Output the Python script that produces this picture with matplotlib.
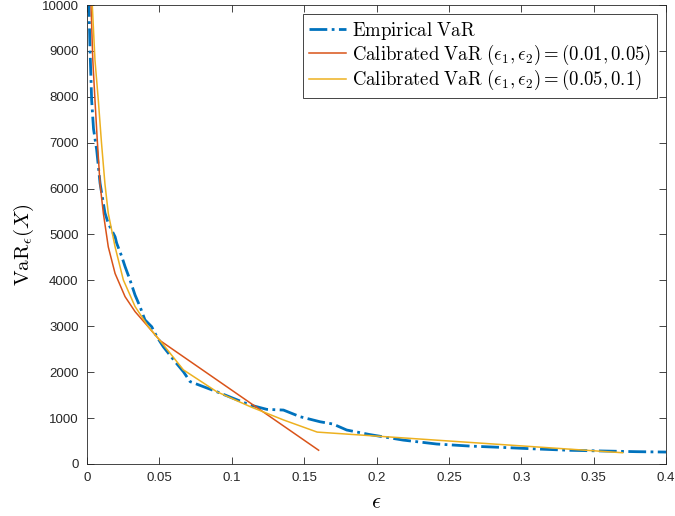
import numpy as np
import matplotlib
matplotlib.use("Agg")
import matplotlib.pyplot as plt

# Empirical VaR
emp_eps = [0.001, 0.0014, 0.0021, 0.0032, 0.0045, 0.0067, 0.009, 0.0124, 0.0147,
           0.0194, 0.0205, 0.024, 0.0263, 0.0297, 0.0332, 0.0366, 0.04, 0.0447,
           0.0482, 0.0527, 0.0608, 0.0666, 0.0712, 0.0804, 0.0896, 0.1011, 0.1127,
           0.1242, 0.1357, 0.1472, 0.161, 0.1700, 0.1794, 0.1955, 0.2185, 0.2416,
           0.2646, 0.2876, 0.3107, 0.3337, 0.3567, 0.3798, 0.4]
emp_var = [10600, 9890, 9020, 7930, 7300, 6840, 6120, 5470, 5240,
           4950, 4810, 4520, 4300, 4010, 3680, 3430, 3140, 2990,
           2775, 2555, 2230, 2010, 1795, 1685, 1575, 1430, 1285,
           1190, 1175, 1030, 920, 870, 740, 640, 520, 435,
           390, 360, 327, 298, 283, 268, 260]

# Calibrated VaR, (eps1, eps2) = (0.01, 0.05)
cal1_eps = [0.0025, 0.0028, 0.0040, 0.0055, 0.0070, 0.009, 0.0113, 0.0147, 0.0194,
            0.0263, 0.0332, 0.0412, 0.0504, 0.16]
cal1_var = [10800, 9960, 8800, 7930, 7100, 6100, 5460, 4730, 4150,
            3645, 3320, 3030, 2690, 300]

# Calibrated VaR, (eps1, eps2) = (0.05, 0.1)
cal2_eps = [0.0033, 0.0037, 0.0055, 0.0078, 0.0100, 0.0124, 0.0147, 0.0194,
            0.0251, 0.0332, 0.0424, 0.0504, 0.0666, 0.0896, 0.1127, 0.1357,
            0.1590, 0.37]
cal2_var = [10700, 9960, 8800, 7930, 7000, 6100, 5460, 4730,
            4010, 3430, 2990, 2690, 2050, 1575, 1250, 960,
            695, 245]

plt.rcParams["mathtext.fontset"] = "cm"
plt.rcParams["font.family"] = ["Liberation Sans", "DejaVu Sans"]

fig = plt.figure(figsize=(6.75, 5.16), dpi=100)
ax = fig.add_axes([0.1289, 0.1008, 0.8578, 0.8895])

ax.plot(emp_eps, emp_var, "-.", color="#0072BD", lw=2.0,
        label=r"$\mathrm{Empirical\ VaR}$")
ax.plot(cal1_eps, cal1_var, "-", color="#D95319", lw=1.1,
        label=r"$\mathrm{Calibrated\ VaR}\ (\epsilon_1,\epsilon_2)=(0.01,0.05)$")
ax.plot(cal2_eps, cal2_var, "-", color="#EDB120", lw=1.1,
        label=r"$\mathrm{Calibrated\ VaR}\ (\epsilon_1,\epsilon_2)=(0.05,0.1)$")

ax.set_xlim(0, 0.4)
ax.set_ylim(0, 10000)
ax.set_xticks(np.arange(0, 0.401, 0.05))
ax.set_xticklabels(["0", "0.05", "0.1", "0.15", "0.2", "0.25", "0.3", "0.35", "0.4"])
ax.set_yticks(np.arange(0, 10001, 1000))
ax.tick_params(direction="in", top=True, right=True, length=5, width=0.6,
               labelsize=9.5, colors="0.15", pad=6)
for s in ax.spines.values():
    s.set_color("0.15")
    s.set_linewidth(0.6)

ax.set_xlabel(r"$\epsilon$", fontsize=16, labelpad=6)
ax.set_ylabel(r"$\mathrm{VaR}_\epsilon(X)$", fontsize=15)
ax.yaxis.set_label_coords(-0.088, 0.477)

leg = ax.legend(loc="upper right", fontsize=13.5, fancybox=False, framealpha=1,
                edgecolor="0.15", borderpad=0.3, labelspacing=0.05,
                handlelength=2.0, handletextpad=0.3, borderaxespad=0.5)
leg.get_frame().set_linewidth(0.6)

fig.savefig("out.png", dpi=100)
